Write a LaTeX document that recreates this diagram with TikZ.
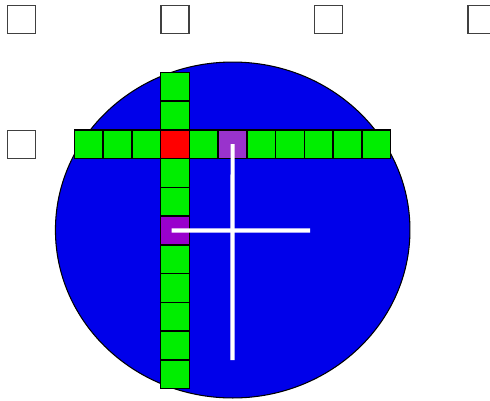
\documentclass[tikz,border=0pt]{standalone}
\usetikzlibrary{positioning}
\definecolor{lime}{RGB}{0,238,0}
\definecolor{mauve}{RGB}{153,51,204}
\definecolor{plum}{RGB}{153,0,204}
\definecolor{disc}{RGB}{0,0,234}

\begin{document}
\begin{tikzpicture}[x=0.02cm, y=-0.02cm,
    cell/.style={draw, rectangle, minimum size=5.75mm, inner sep=0pt, outer sep=0pt, line width=0.8pt, fill=lime},
    slot/.style={draw=black!75, rectangle, minimum size=5.6mm, inner sep=0pt, fill=white, line width=0.6pt},
    ray/.style={draw=white, line width=2.3pt}]
        \useasboundingbox (0,0) rectangle (490,400);

        \node[slot] (t1) at (21.3,19.3) {};
        \node[slot] (t2) at (175,19.3) {};
        \node[slot] (t3) at (328.5,19.3) {};
        \node[slot] (t4) at (482,19.3) {};
        \node[slot] (l1) at (21.3,144.2) {};

        \draw[fill=disc, line width=0.6pt] (232.7,230) ellipse [x radius=3.546cm, y radius=3.36cm];

        \node[cell, fill=red] (hub) at (175,144.2) {};
        \foreach \i in {1,2,3}
            \node[cell] (w\i) at ({175-28.76*\i},144.2) {};
        \foreach \i/\c in {1/lime,2/mauve,3/lime,4/lime,5/lime,6/lime,7/lime}
            \node[cell, fill=\c] (e\i) at ({175+28.76*\i},144.2) {};
        \foreach \i in {1,2}
            \node[cell] (n\i) at (175,{144.2-28.76*\i}) {};
        \foreach \i/\c in {1/lime,2/lime,3/plum,4/lime,5/lime,6/lime,7/lime,8/lime}
            \node[cell, fill=\c] (s\i) at (175,{144.2+28.76*\i}) {};

        \coordinate (hend) at (310,230.5);
        \coordinate (vend) at (232.5,360);
        \draw[ray, shorten <=-0.07cm] (s3.center) -- (hend);
        \draw[ray] (e2.center) -- (vend);
    \end{tikzpicture}
\end{document}
